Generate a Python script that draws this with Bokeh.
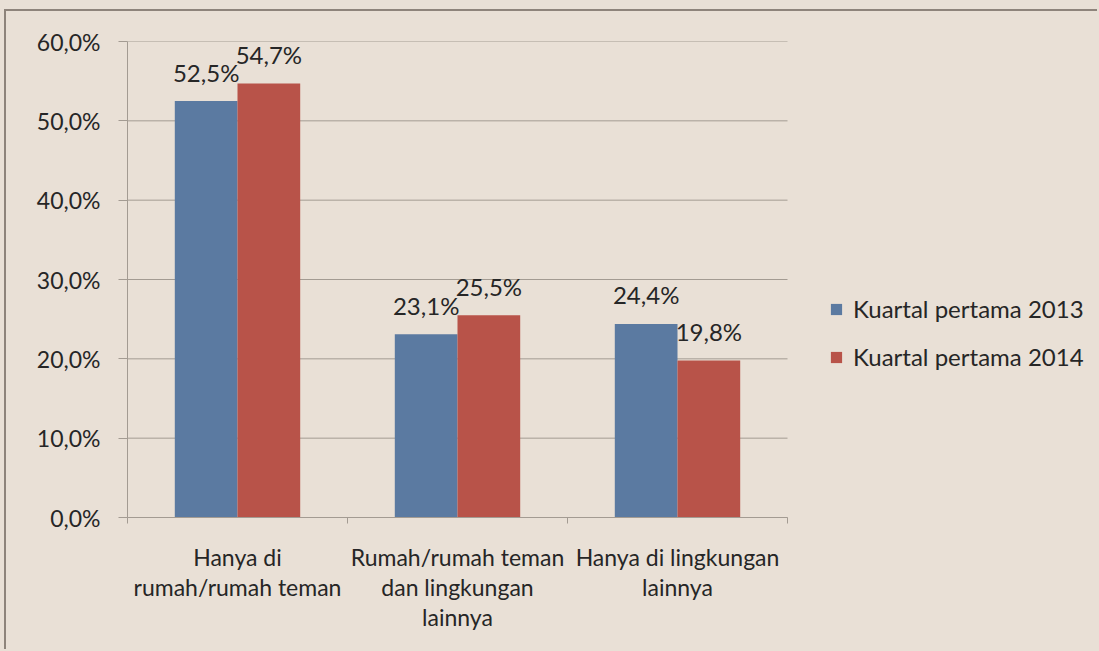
from bokeh.plotting import figure
from bokeh.models import FixedTicker, Legend, LegendItem, ColumnDataSource, Range1d
from bokeh.core.properties import value
from bokeh.embed import file_html
from bokeh.resources import INLINE

categories = ["Hanya di\nrumah/rumah teman", "Rumah/rumah teman\ndan lingkungan\nlainnya", "Hanya di lingkungan\nlainnya"]
series_names = ["Kuartal pertama 2013", "Kuartal pertama 2014"]
values_2013 = [52.5, 23.1, 24.4]
values_2014 = [54.7, 25.5, 19.8]
y_ticks = [0, 10, 20, 30, 40, 50, 60]

BG = "#E9E0D6"
BLUE = "#5B7AA1"
RED = "#B85349"
GRID = "#A39B92"
FRAME = "#8E847B"
TXT = "#262626"
FONT = "Lato"

W, H = 1093, 640
LEFT, TOP, BOTTOM = 121, 30, 134
UNIT_PX = 220  # pixels per category
frame_w = W - LEFT

p = figure(width=W, height=H, output_backend="svg", toolbar_location=None,
           x_range=Range1d(0, frame_w / UNIT_PX), y_range=Range1d(0, 60),
           background_fill_color=None, border_fill_color=BG,
           min_border_left=LEFT, min_border_right=0, min_border_top=TOP, min_border_bottom=BOTTOM)
p.outline_line_color = None
p.margin = (9, 0, 0, 4)
p.styles = {"border-top": f"2px solid {FRAME}", "border-left": f"2px solid {FRAME}",
            "box-shadow": f"0 0 0 30px {BG}", "background-color": BG}

n = len(categories)
idx = list(range(n))

# horizontal gridlines limited to the category area
p.segment(x0=[0] * len(y_ticks), x1=[n] * len(y_ticks), y0=y_ticks, y1=y_ticks,
          line_color=GRID, line_width=1)

bw = 0.285
src13 = ColumnDataSource(dict(x=[i + 0.5 - bw / 2 for i in idx], top=values_2013,
                              lab=[f"{v:.1f}%".replace(".", ",") for v in values_2013]))
src14 = ColumnDataSource(dict(x=[i + 0.5 + bw / 2 for i in idx], top=values_2014,
                              lab=[f"{v:.1f}%".replace(".", ",") for v in values_2014]))
r13 = p.vbar(x="x", top="top", bottom=0, width=bw, source=src13, fill_color=BLUE, line_color=None)
r14 = p.vbar(x="x", top="top", bottom=0, width=bw, source=src14, fill_color=RED, line_color=None)
for s in (src13, src14):
    p.text(x="x", y="top", text="lab", source=s, text_align="center", text_baseline="alphabetic",
           y_offset=-29, text_font=value(FONT), text_font_size="24px", text_color=TXT)

# axes
p.xaxis.bounds = (0, n)
p.xaxis.ticker = FixedTicker(ticks=[i + 0.5 for i in idx], minor_ticks=list(range(n + 1)))
p.xaxis.major_label_overrides = {i + 0.5: c for i, c in enumerate(categories)}
p.xaxis.major_tick_line_color = None
p.xaxis.minor_tick_out = 6
p.xaxis.minor_tick_in = 0
p.xaxis.minor_tick_line_color = GRID
p.xaxis.axis_line_color = GRID
p.xaxis.major_label_standoff = 19
p.xaxis.major_label_text_font = FONT
p.xaxis.major_label_text_font_size = "23px"
p.xaxis.major_label_text_color = TXT
p.xaxis.major_label_text_line_height = 1.08

p.yaxis.ticker = FixedTicker(ticks=y_ticks, minor_ticks=[])
p.yaxis.major_label_overrides = {t: f"{t:.1f}%".replace(".", ",") for t in y_ticks}
p.yaxis.major_tick_out = 9
p.yaxis.major_tick_in = 0
p.yaxis.major_tick_line_color = GRID
p.yaxis.axis_line_color = GRID
p.yaxis.major_label_standoff = 18
p.yaxis.major_label_text_font = FONT
p.yaxis.major_label_text_font_size = "23px"
p.yaxis.major_label_text_color = TXT

p.xgrid.grid_line_color = None
p.ygrid.grid_line_color = None

legend = Legend(items=[LegendItem(label=series_names[0], renderers=[r13]),
                       LegendItem(label=series_names[1], renderers=[r14])],
                location=(702, 146), orientation="vertical",
                background_fill_alpha=0, border_line_color=None,
                glyph_width=14, glyph_height=14, label_standoff=10, spacing=19,
                padding=0, margin=0,
                label_text_font=FONT, label_text_font_size="24px", label_text_color=TXT)
p.add_layout(legend, "center")

open("out.html", "w").write(file_html(p, INLINE))
